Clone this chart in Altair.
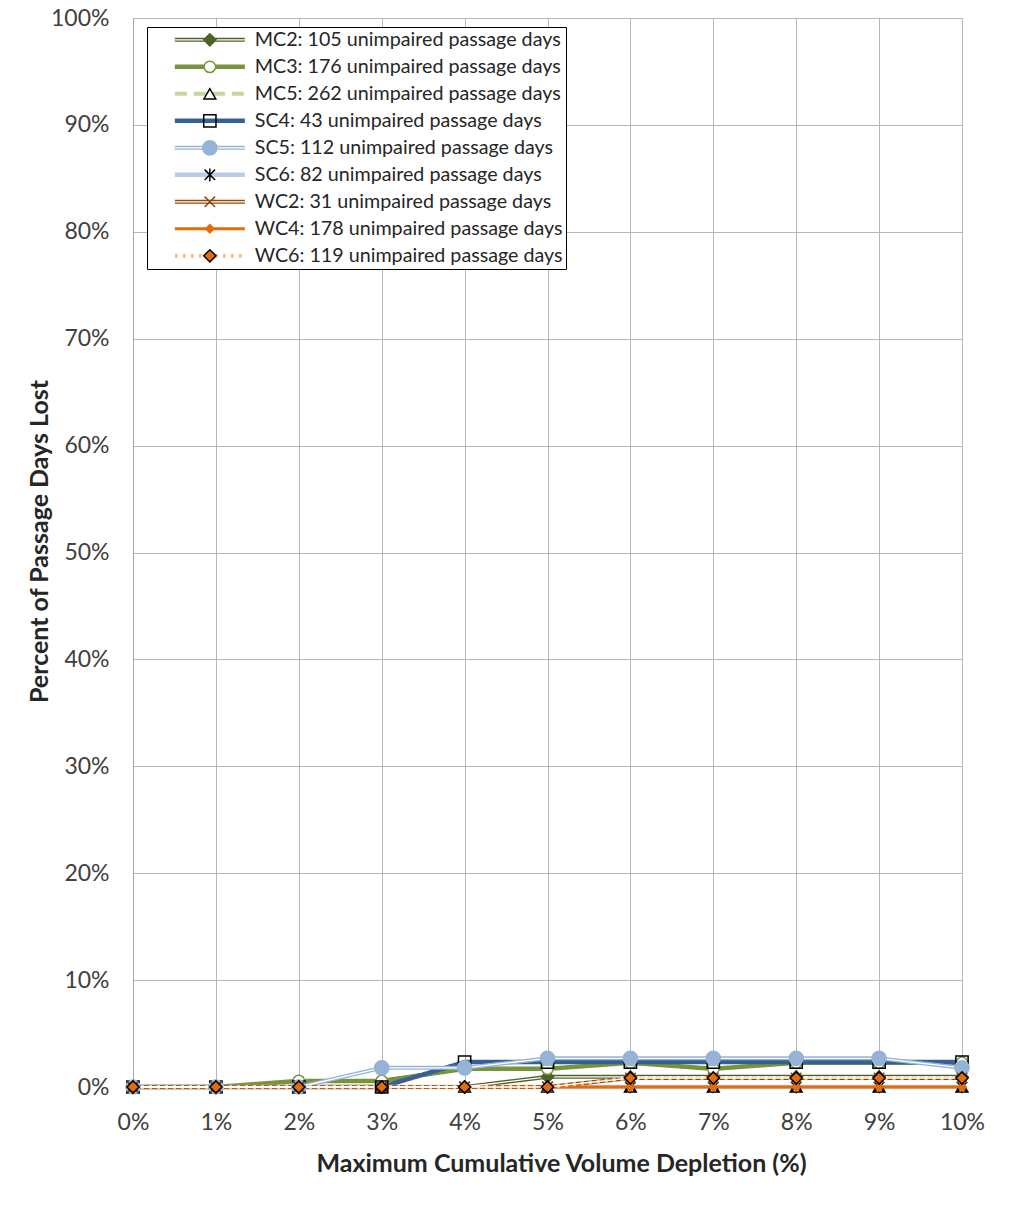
import altair as alt
import pandas as pd

FONT = "Lato"

x_vals = [0, 1, 2, 3, 4, 5, 6, 7, 8, 9, 10]

series_names = [
    "MC2: 105 unimpaired passage days",
    "MC3: 176 unimpaired passage days",
    "MC5: 262 unimpaired passage days",
    "SC4: 43 unimpaired passage days",
    "SC5: 112 unimpaired passage days",
    "SC6: 82 unimpaired passage days",
    "WC2: 31 unimpaired passage days",
    "WC4: 178 unimpaired passage days",
    "WC6: 119 unimpaired passage days",
]

# percent of passage days lost (%)
mc2 = [0, 0, 0, 0, 0, 0.95, 0.95, 0.95, 0.95, 0.95, 0.95]
mc3 = [0, 0, 0.57, 0.57, 1.70, 1.70, 2.27, 1.70, 2.27, 2.27, 2.27]
mc5 = [0, 0, 0, 0, 0, 0, 0, 0, 0, 0, 0]
sc4 = [0, 0, 0, 0, 2.33, 2.33, 2.33, 2.33, 2.33, 2.33, 2.33]
sc5 = [0, 0, 0, 1.79, 1.79, 2.68, 2.68, 2.68, 2.68, 2.68, 1.79]
sc6 = [0, 0, 0, 0, 0, 0, 0, 0, 0, 0, 0]
wc2 = [0, 0, 0, 0, 0, 0, 0.84, 0.84, 0.84, 0.84, 0.84]
wc4 = [0, 0, 0, 0, 0, 0, 0, 0, 0, 0, 0]
wc6 = [0, 0, 0, 0, 0, 0, 0.84, 0.84, 0.84, 0.84, 0.84]
all_series = [mc2, mc3, mc5, sc4, sc5, sc6, wc2, wc4, wc6]

# styles
line_colors = ["#4F6228", "#77933C", "#C3D69B", "#376092", "#95B3D7",
               "#B9CDE5", "#984807", "#E46C0A", "#FAC090"]
line_widths = [4, 4.5, 4, 4.5, 4, 4.5, 4, 3, 4]
line_dashes = [[1, 0], [1, 0], [12, 7], [1, 0], [1, 0], [1, 0], [1, 0], [1, 0], [3, 5]]
double_line = [1, 0, 0, 0, 1, 0, 1, 0, 0]

ASTERISK = "M-1,-1L1,1M-1,1L1,-1M0,-1.2L0,1.2"
XMARK = "M-1,-1L1,1M-1,1L1,-1"
marker_shapes = ["diamond", "circle", "triangle-up", "square", "circle",
                 ASTERISK, XMARK, "diamond", "diamond"]
marker_fills = ["#4F6228", "#FFFFFF", "transparent", "transparent", "#95B3D7",
                "transparent", "transparent", "#E46C0A", "#E46C0A"]
marker_strokes = ["#4F6228", "#77933C", "#000000", "#000000", "#95B3D7",
                  "#000000", "#984807", "#E46C0A", "#000000"]
marker_sizes = [150, 130, 140, 150, 200, 110, 110, 70, 150]

m_names = ["m" + s for s in series_names]
w_names = ["w" + s for s in series_names]

rows = []
for name, mname, wname, vals in zip(series_names, m_names, w_names, all_series):
    for xv, yv in zip(x_vals, vals):
        rows.append({"series": name, "series_m": mname, "series_w": wname,
                     "x": xv, "y": yv / 100.0})
df = pd.DataFrame(rows)

LX, LY = 14, 9
leg_common = dict(orient="none", legendX=LX, legendY=LY, title=None,
                  labelFont=FONT, labelFontSize=19.7, rowPadding=6, labelLimit=1000,
                  padding=3, symbolSize=100)

line_legend = alt.Legend(**leg_common, symbolType="M-7,0H7", symbolOffset=50,
                         labelOffset=35, labelColor="#262626",
                         fillColor="white", strokeColor="black")
white_legend = alt.Legend(**leg_common, symbolType="M-7,0H7", symbolOffset=50,
                          labelOffset=35, labelColor="transparent",
                          symbolStrokeColor="white", symbolStrokeWidth=1.3)
marker_legend = alt.Legend(**leg_common, symbolOffset=50, labelOffset=35,
                           labelColor="transparent", symbolStrokeWidth=1.5)

x_enc = alt.X("x:Q", scale=alt.Scale(domain=[0, 10], nice=False),
              axis=alt.Axis(values=x_vals, labelExpr="datum.value + '%'",
                            title="Maximum Cumulative Volume Depletion (%)"))
y_enc = alt.Y("y:Q", scale=alt.Scale(domain=[0, 1], nice=False),
              axis=alt.Axis(values=[i / 10 for i in range(11)], format=".0%",
                            title="Percent of Passage Days Lost"))

lines = alt.Chart(df).mark_line(strokeJoin="round").encode(
    x=x_enc, y=y_enc,
    color=alt.Color("series:N", scale=alt.Scale(domain=series_names, range=line_colors),
                    legend=line_legend),
    strokeDash=alt.StrokeDash("series:N", scale=alt.Scale(domain=series_names, range=line_dashes),
                              legend=line_legend),
    strokeWidth=alt.StrokeWidth("series:N", scale=alt.Scale(type="ordinal", domain=series_names,
                                                            range=line_widths),
                                legend=line_legend),
    order="x:Q",
)

whites = alt.Chart(df).mark_line(stroke="white", strokeWidth=1.3).encode(
    x=x_enc, y=y_enc,
    opacity=alt.Opacity("series_w:N",
                        scale=alt.Scale(type="ordinal", domain=w_names, range=double_line),
                        legend=white_legend),
    order="x:Q",
)

points = alt.Chart(df).mark_point(strokeWidth=1.5, opacity=1).encode(
    x=x_enc, y=y_enc,
    shape=alt.Shape("series_m:N", scale=alt.Scale(domain=m_names, range=marker_shapes),
                    legend=marker_legend),
    fill=alt.Fill("series_m:N", scale=alt.Scale(domain=m_names, range=marker_fills),
                  legend=marker_legend),
    stroke=alt.Stroke("series_m:N", scale=alt.Scale(domain=m_names, range=marker_strokes),
                      legend=marker_legend),
    size=alt.Size("series_m:N", scale=alt.Scale(type="ordinal", domain=m_names, range=marker_sizes),
                  legend=marker_legend),
)

chart = alt.layer(lines, whites, points).properties(
    width=829, height=1069,
    autosize=alt.AutoSizeParams(type="none"),
    padding={"left": 125, "top": 10, "right": 59, "bottom": 110},
    background="white",
).configure_axis(
    labelFont=FONT, labelFontSize=23, labelColor="#404040", labelFlush=False,
    titleFont=FONT, titleFontSize=25, titleFontWeight="bold", titleColor="#262626",
    grid=True, gridColor="#B7B7B7", gridWidth=1,
    domainColor="#A6A6A6", ticks=False,
).configure_axisX(
    labelPadding=24, titlePadding=17, titleX=428,
).configure_axisY(
    labelPadding=24, titlePadding=-2, titleY=523,
).configure_view(
    stroke="#A6A6A6", strokeWidth=1,
)

chart.save("out.html", embed_options={"renderer": "svg", "actions": False})
